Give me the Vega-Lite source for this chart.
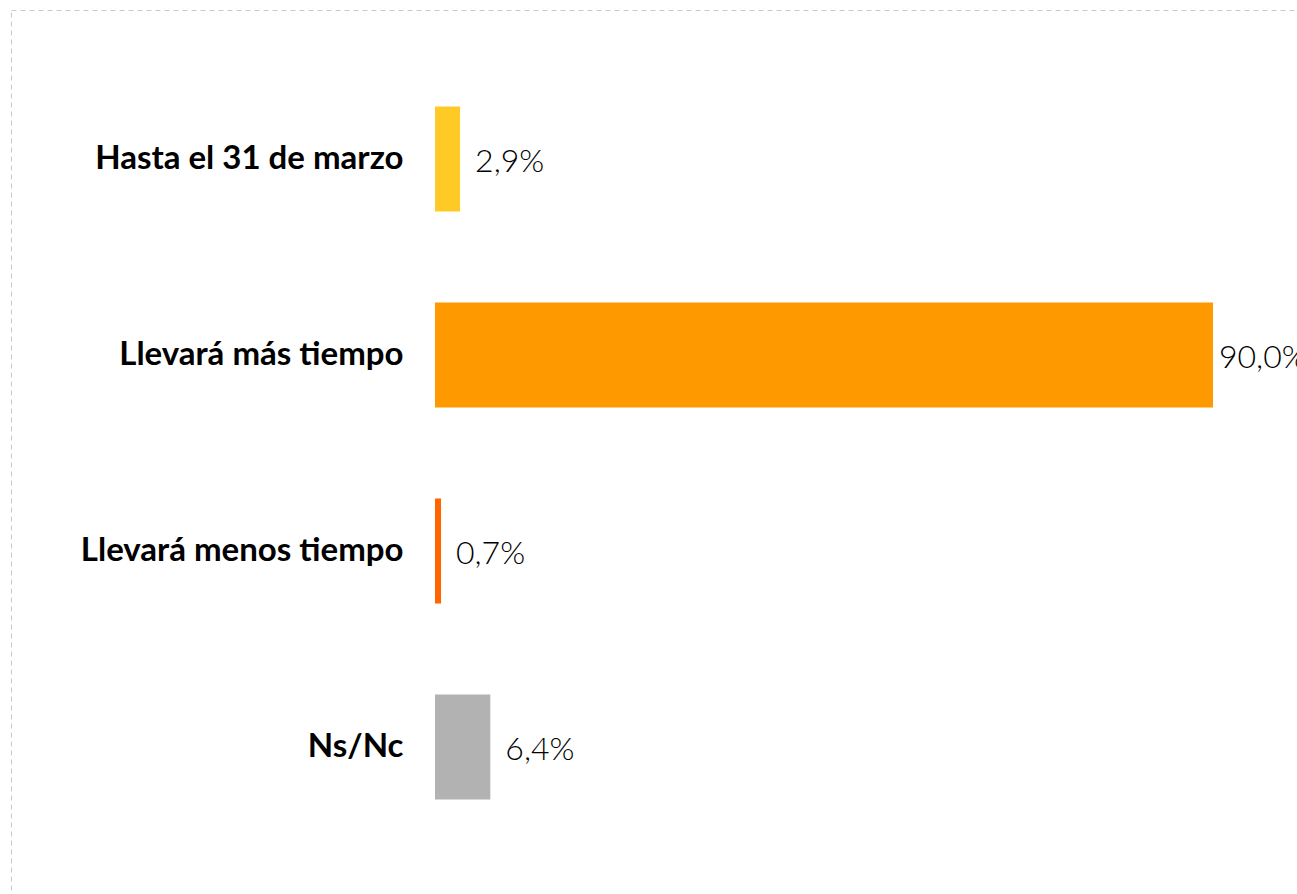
{
  "$schema": "https://vega.github.io/schema/vega-lite/v6.json",
  "width": 1300,
  "height": 886,
  "autosize": {"type": "none"},
  "padding": {"left": 11, "top": 10, "right": 0, "bottom": 0},
  "background": "white",
  "config": {"view": {"stroke": "#c8c8c8", "strokeDash": [5, 4], "strokeWidth": 1}},
  "data": {"values": [
    {"cat": "Hasta el 31 de marzo", "value": 2.9, "label": "2,9%"},
    {"cat": "Llevará más tiempo", "value": 90.0, "label": "90,0%"},
    {"cat": "Llevará menos tiempo", "value": 0.7, "label": "0,7%"},
    {"cat": "Ns/Nc", "value": 6.4, "label": "6,4%"}
  ]},
  "encoding": {
    "y": {"field": "cat", "type": "nominal", "sort": null,
      "scale": {"paddingInner": 0.464, "paddingOuter": 0.492},
      "axis": {"title": null, "domain": false, "ticks": false, "labelPadding": 0, "offset": -392,
        "labelFont": "Lato", "labelFontSize": 33, "labelFontWeight": "bold", "labelColor": "#000000", "labelLimit": 0}}
  },
  "layer": [
    {"mark": {"type": "bar"},
     "encoding": {
       "x": {"field": "value", "type": "quantitative", "scale": {"domain": [0, 90], "range": [424, 1202], "nice": false}, "axis": null},
       "color": {"field": "cat", "type": "nominal", "sort": null,
         "scale": {"domain": ["Hasta el 31 de marzo", "Llevará más tiempo", "Llevará menos tiempo", "Ns/Nc"],
                   "range": ["#FFC926", "#FF9900", "#FF6600", "#B2B2B2"]}, "legend": null}
     }},
    {"mark": {"type": "text", "align": "left", "baseline": "middle", "dx": {"expr": "datum.value > 50 ? 6 : 15"}, "dy": 3,
              "font": "Lato", "fontSize": 32, "fontWeight": 300, "color": "#000000"},
     "encoding": {
       "x": {"field": "value", "type": "quantitative", "scale": {"domain": [0, 90], "range": [424, 1202], "nice": false}, "axis": null},
       "text": {"field": "label"}
     }}
  ]
}
